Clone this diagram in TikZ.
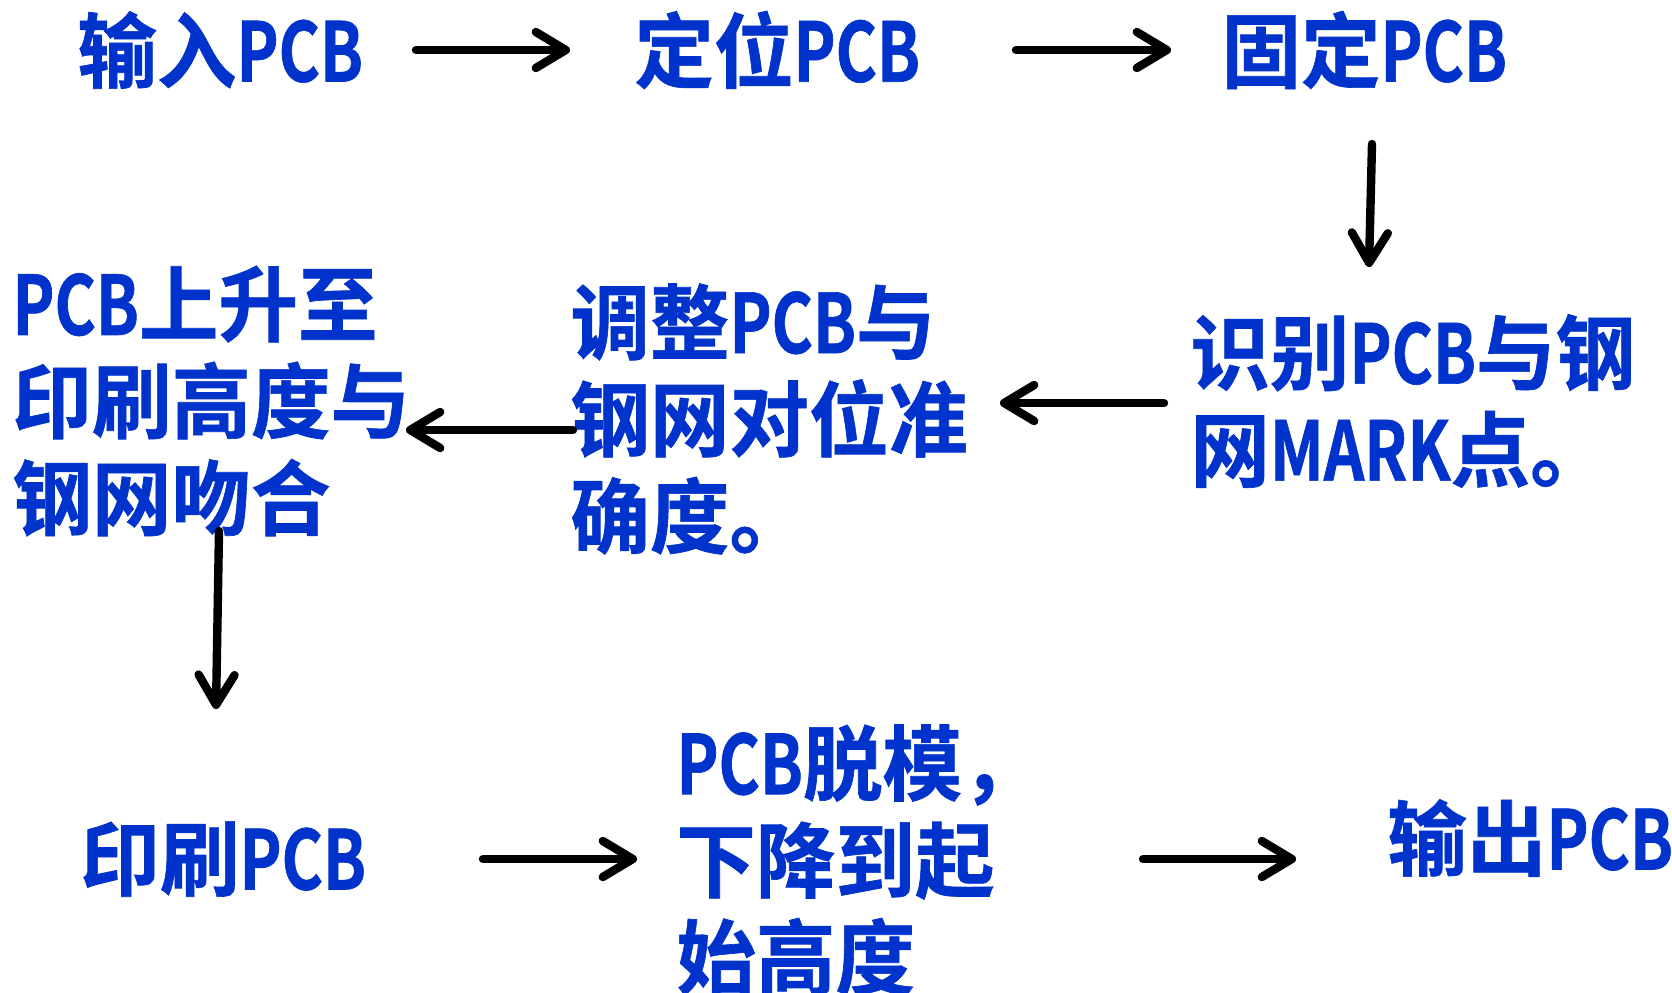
\documentclass[tikz,border=0pt]{standalone}
\usepackage{fontspec}
\usetikzlibrary{arrows.meta}
\newfontfamily\cjkf{Noto Sans CJK SC Bold}[FakeStretch=0.97,FakeBold=0.8]
\newfontfamily\latn{Noto Sans CJK SC Bold}[FakeStretch=0.77,FakeBold=0.8]
\newcommand\pcbw[1]{{\latn #1}}
\definecolor{tblue}{RGB}{0,51,204}
\tikzset{
  lbl/.style={font=\cjkf\fontsize{41}{48.5}\selectfont, text=tblue, inner sep=0pt, anchor=west, align=left},
  arr/.style={line width=4.2pt, line cap=round, -{Straight Barb[length=15pt,width=18pt,line cap=round,line join=round]}}
}
\begin{document}
\begin{tikzpicture}[x=0.5pt,y=-0.5pt]
\useasboundingbox (0,0) rectangle (1672,992);
\node[lbl] (n1) at (77,50) {输入\pcbw{PCB}};
\node[lbl] (n2) at (634,50) {定位\pcbw{PCB}};
\node[lbl] (n3) at (1221,50) {固定\pcbw{PCB}};
\node[lbl] (n4) at (1190,401) {识别\pcbw{PCB}与钢\\网\pcbw{MARK}点。};
\node[lbl] (n5) at (570,419) {调整\pcbw{PCB}与\\钢网对位准\\确度。};
\node[lbl] (n6) at (12,401) {\pcbw{PCB}上升至\\印刷高度与\\钢网吻合};
\node[lbl] (n7) at (80,859) {印刷\pcbw{PCB}};
\node[lbl] (n8) at (676,860) {\pcbw{PCB}脱模，\\下降到起\\始高度};
\node[lbl] (n9) at (1387,838) {输出\pcbw{PCB}};
\draw[arr] ([shift={(339,0)}]n1.west) -- ([shift={(-64,0)}]n2.west);
\draw[arr] ([shift={(382,0)}]n2.west) -- ([shift={(-50,0)}]n3.west);
\draw[arr] ([shift={(151,94)}]n3.west) -- ([shift={(179,-134)}]n4.west);
\draw[arr] ([shift={(-26,2)}]n4.west) -- ([shift={(430,-16)}]n5.west);
\draw[arr] ([shift={(3,11)}]n5.west) -- ([shift={(394,29)}]n6.west);
\draw[arr] ([shift={(207,130)}]n6.west) -- ([shift={(136,-150)}]n7.west);
\draw[arr] ([shift={(403,0)}]n7.west) -- ([shift={(-39,-1)}]n8.west);
\draw[arr] ([shift={(467,-1)}]n8.west) -- ([shift={(-91,21)}]n9.west);
\end{tikzpicture}
\end{document}
